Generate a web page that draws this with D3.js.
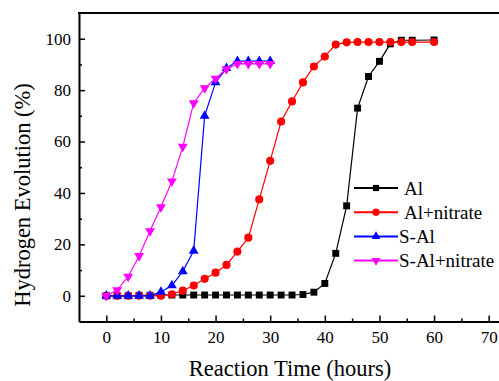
<!DOCTYPE html>
<html>
<head>
<meta charset="utf-8">
<script src="https://cdn.jsdelivr.net/npm/d3@7"></script>
<style>
  body { margin: 0; background: #fff; }
  svg { display: block; }
</style>
</head>
<body>
<div id="chart"></div>
<script>
// Data
var seriesNames = ['Al', 'Al+nitrate', 'S-Al', 'S-Al+nitrate'];
var seriesColors = ['#000000', '#ff0000', '#0000ff', '#ff00ff'];

var alTime = [0, 2, 4, 6, 8, 10, 12, 14, 16, 18, 20, 22, 24, 26, 28, 30, 32, 34, 36, 38, 40, 42, 44, 46, 48, 50, 52, 54, 56, 60];
var alH2 = [0, 0, 0, 0.2, 0.2, 0.3, 0.3, 0.3, 0.3, 0.3, 0.3, 0.3, 0.3, 0.3, 0.3, 0.3, 0.3, 0.3, 0.5, 1.4, 4.8, 16.5, 35, 73, 85.3, 91.2, 98, 99.4, 99.4, 99.5];

var alNitrateTime = [0, 2, 4, 6, 8, 10, 12, 14, 16, 18, 20, 22, 24, 26, 28, 30, 32, 34, 36, 38, 40, 42, 44, 46, 48, 50, 52, 54, 56, 60];
var alNitrateH2 = [0, 0, 0, 0, 0, 0, 0.6, 2, 4, 6.6, 9, 12, 17.2, 22.6, 37.5, 52.5, 67.8, 75.6, 83, 89.2, 93.1, 97.7, 98.6, 98.7, 98.7, 98.7, 98.7, 98.7, 98.7, 98.7];

var sAlTime = [0, 2, 4, 6, 8, 10, 12, 14, 16, 18, 20, 22, 24, 26, 28, 30];
var sAlH2 = [0, 0, 0, 0, 0, 1.5, 4, 9.5, 17.5, 70, 83, 88.5, 91.3, 91.3, 91.3, 91.3];

var sAlNitrateTime = [0, 2, 4, 6, 8, 10, 12, 14, 16, 18, 20, 22, 24, 26, 28, 30];
var sAlNitrateH2 = [0, 2.2, 7.5, 15.5, 25.2, 34.5, 44.5, 58, 75, 80.8, 84.5, 88.2, 90.2, 90.2, 90.2, 90.2];

var xTicks = [0, 10, 20, 30, 40, 50, 60, 70];
var xMinorTicks = [5, 15, 25, 35, 45, 55, 65, 75];
var yTicks = [0, 20, 40, 60, 80, 100];
var yMinorTicks = [10, 30, 50, 70, 90];

var series = [
  {name: seriesNames[0], color: seriesColors[0], symbol: d3.symbolSquare, size: 48, t: alTime, v: alH2},
  {name: seriesNames[1], color: seriesColors[1], symbol: d3.symbolCircle, size: 52, t: alNitrateTime, v: alNitrateH2},
  {name: seriesNames[2], color: seriesColors[2], symbol: d3.symbolTriangle, size: 42, t: sAlTime, v: sAlH2},
  {name: seriesNames[3], color: seriesColors[3], symbol: d3.symbolTriangle, size: 42, rotate: 180, t: sAlNitrateTime, v: sAlNitrateH2}
];

var FONT = 'Liberation Serif';

var width = 499,
    height = 381;

var svg = d3.select('#chart')
            .append('svg')
            .attr('width', width)
            .attr('height', height)
            .attr('font-family', FONT);

// plot box: the figure is cropped on the right, so the x range runs past the svg edge
var x = d3.scaleLinear().domain([-5, 75]).range([79, 516]);
var y = d3.scaleLinear().domain([-10, 110]).range([321.5, 13]);

// minor ticks
svg.append('g')
   .attr('transform', 'translate(0,' + y(-10) + ')')
   .call(d3.axisBottom(x).tickValues(xMinorTicks).tickSizeInner(-3).tickSizeOuter(0).tickFormat(''))
   .call(function(g) { g.select('.domain').remove(); })
   .selectAll('line').attr('stroke-width', 1.5);

svg.append('g')
   .attr('transform', 'translate(' + x(-5) + ',0)')
   .call(d3.axisLeft(y).tickValues(yMinorTicks).tickSizeInner(-3).tickSizeOuter(0).tickFormat(''))
   .call(function(g) { g.select('.domain').remove(); })
   .selectAll('line').attr('stroke-width', 1.5);

// major axes
var xAxis = svg.append('g')
   .attr('transform', 'translate(0,' + y(-10) + ')')
   .call(d3.axisBottom(x).tickValues(xTicks).tickSizeInner(-6).tickSizeOuter(0).tickPadding(9));

var yAxis = svg.append('g')
   .attr('transform', 'translate(' + x(-5) + ',0)')
   .call(d3.axisLeft(y).tickValues(yTicks).tickSizeInner(-6).tickSizeOuter(0).tickPadding(8));

[xAxis, yAxis].forEach(function(g) {
  g.attr('font-family', FONT).attr('font-size', 17);
  g.select('.domain').attr('stroke-width', 2);
  g.selectAll('.tick line').attr('stroke-width', 1.5);
  g.selectAll('.tick text')
   .attr('font-family', FONT)
   .attr('font-size', 17)
   .attr('fill', '#000');
});

// top border
svg.append('line')
   .attr('x1', x(-5) - 1)
   .attr('x2', x(75))
   .attr('y1', y(110))
   .attr('y2', y(110))
   .attr('stroke', '#000')
   .attr('stroke-width', 2);

// series
var line = d3.line()
  .x(function(d) { return x(d[0]); })
  .y(function(d) { return y(d[1]); });

series.forEach(function(s) {
  var pts = s.t.map(function(t, i) { return [t, s.v[i]]; });
  var g = svg.append('g');
  g.append('path')
   .datum(pts)
   .attr('d', line)
   .attr('fill', 'none')
   .attr('stroke', s.color)
   .attr('stroke-width', 1.2);
  g.selectAll('path.pt')
   .data(pts)
   .enter()
   .append('path')
    .attr('class', 'pt')
    .attr('d', d3.symbol().type(s.symbol).size(s.size))
    .attr('transform', function(d) {
      return 'translate(' + x(d[0]) + ',' + y(d[1]) + ')' + (s.rotate ? ' rotate(' + s.rotate + ')' : '');
    })
    .attr('fill', s.color);
});

// legend
var legendX = [404, 404, 399, 399];
var legend = svg.append('g')
  .selectAll('g')
  .data(series)
  .enter()
  .append('g')
   .attr('transform', function(d, i) { return 'translate(354,' + (188 + i * 24.2) + ')'; });

legend.append('line')
  .attr('x1', 0).attr('x2', 44)
  .attr('stroke', function(d) { return d.color; })
  .attr('stroke-width', 2);

legend.append('path')
  .attr('d', function(d) { return d3.symbol().type(d.symbol).size(d.size * 0.8)(); })
  .attr('transform', function(d) { return 'translate(22,0)' + (d.rotate ? ' rotate(' + d.rotate + ')' : ''); })
  .attr('fill', function(d) { return d.color; });

legend.append('text')
  .attr('x', function(d, i) { return legendX[i] - 354; })
  .attr('dy', '0.35em')
  .attr('font-family', FONT)
  .attr('font-size', 19)
  .text(function(d) { return d.name; });

// axis titles
svg.append('text')
  .attr('x', 290)
  .attr('y', 376)
  .attr('text-anchor', 'middle')
  .attr('font-family', FONT)
  .attr('font-size', 22.5)
  .text('Reaction Time (hours)');

svg.append('text')
  .attr('transform', 'translate(30,' + 195 + ') rotate(-90)')
  .attr('text-anchor', 'middle')
  .attr('font-family', FONT)
  .attr('font-size', 22.5)
  .text('Hydrogen Evolution (%)');
</script>
</body>
</html>
